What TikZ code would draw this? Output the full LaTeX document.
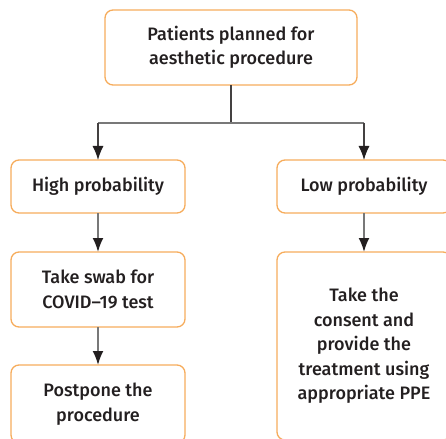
\documentclass[tikz,border=0pt]{standalone}
\usepackage{fontspec}
\setmainfont{Fira Sans}[BoldFont=* Medium]
\usetikzlibrary{arrows.meta}
\definecolor{boxorange}{RGB}{246,172,92}
\definecolor{txtgray}{RGB}{35,31,32}
\definecolor{linegray}{RGB}{120,120,120}

\begin{document}
\begin{tikzpicture}[x=1pt,y=-1pt,
    box/.style = {rectangle,rounded corners=8pt,draw=boxorange,line width=1.3pt,align=center,text=txtgray,
                  font=\fontsize{18}{24.5}\selectfont\bfseries,inner sep=0pt,outer sep=0pt},
    link/.style = {draw=linegray,line width=1.8pt},
    stem/.style = {draw=txtgray!85,line width=1.2pt},
    tip/.style = {-{Latex[length=14pt,width=11pt,color=txtgray]}}]
\useasboundingbox (0,0) rectangle (446,438);
\clip (0,0) rectangle (446,438);
\node[box,minimum width=252pt,minimum height=75pt] (patients) at (231,47.5) {Patients planned for\\aesthetic procedure};
\node[box,minimum width=174pt,minimum height=53pt] (high) at (98,186.5) {High probability};
\node[box,minimum width=174pt,minimum height=53pt] (low) at (364,186.5) {Low probability};
\node[box,minimum width=174pt,minimum height=75pt] (swab) at (98,289.5) {Take swab for\\COVID–19 test};
\node[box,minimum width=174pt,minimum height=78pt] (postpone) at (98,404) {Postpone the\\procedure};
\node[box,minimum width=174pt,minimum height=188pt] (consent) at (364,346) {Take the\\consent and\\provide the\\treatment using\\appropriate PPE};
\draw[stem] (patients.south) -- ++(0,38) coordinate (fork);
\draw[link] (high.north |- fork) -- (low.north |- fork);
\draw[stem,tip] (high.north |- fork) -- (high.north);
\draw[stem,tip] (low.north |- fork) -- (low.north);
\draw[link,tip] (high) -- (swab);
\draw[link,tip] (swab) -- (postpone);
\draw[link,tip] (low) -- (consent);
\end{tikzpicture}
\end{document}
